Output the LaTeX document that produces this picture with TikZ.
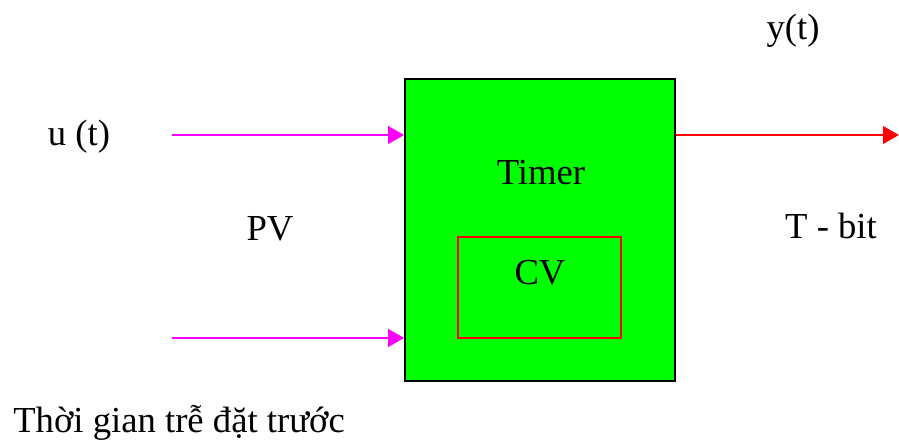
\documentclass[tikz,border=0pt]{standalone}
\usepackage{fontspec}
\setmainfont{Liberation Serif}
\usetikzlibrary{arrows.meta,positioning}
\definecolor{pvpink}{RGB}{255,0,255}
\definecolor{blkgreen}{RGB}{0,255,0}
\definecolor{outred}{RGB}{255,0,0}

\begin{document}
\begin{tikzpicture}[
  x=0.75pt, y=-0.75pt,
  font=\fontsize{27.5}{32}\selectfont,
  >={Triangle[length=12pt,width=13pt]},
  lbl/.style={inner sep=0pt, anchor=base},
  blk/.style={draw, line width=1.2pt, fill=blkgreen, inner sep=0pt,
              minimum width=202.5pt, minimum height=226.5pt},
  cvbox/.style={draw=outred, line width=1.4pt, inner sep=0pt,
                minimum width=122.25pt, minimum height=75.75pt},
  inwire/.style={->, pvpink, line width=2.2pt},
  outwire/.style={->, outred, line width=2.2pt},
]
\useasboundingbox (0,0) rectangle (899,444);
% timer block with the CV box inside
\node[blk] (timer) at (540,230) {};
\node[cvbox] (cv) at (539.5,287.5) {};
\node[lbl] (tname) at (541,184) {Timer};
\node[lbl] (cvname) at (540,284) {CV};
% inputs on the left
\coordinate (u1) at (172,135);
\coordinate (u2) at (172,338);
\draw[inwire] (u1) -- (u1 -| timer.west);
\draw[inwire] (u2) -- (u2 -| timer.west);
\node[lbl] (ut) at (79,145) {u (t)};
\node[lbl] (pv) at (270,240) {PV};
% output on the right
\coordinate (yend) at (899,135);
\draw[outwire] (yend -| timer.east) -- (yend);
\node[lbl] (yt) at (793,39) {y(t)};
\node[lbl] (tbit) at (831,238) {T - bit};
% preset delay note
\node[lbl, anchor=base west] (delay) at (13,432) {Thời gian trễ đặt trước};
\end{tikzpicture}
\end{document}
